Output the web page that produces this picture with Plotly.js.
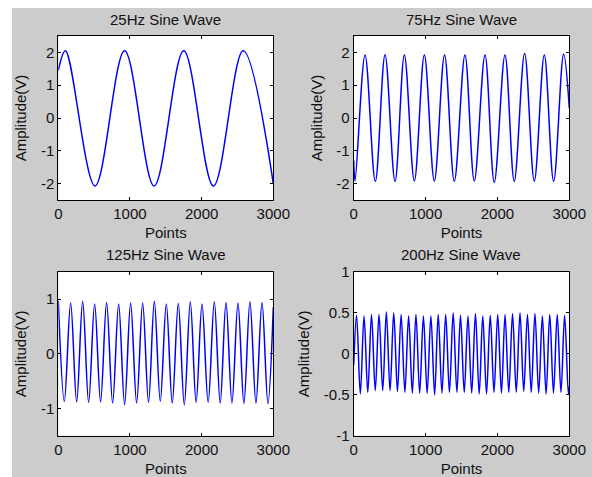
<!DOCTYPE html>
<html><head><meta charset="utf-8">
<script src="https://cdn.plot.ly/plotly-3.0.1.min.js"></script>
<style>html,body{margin:0;padding:0;background:#fff}</style>
</head><body><div id="chart" style="width:592px;height:477px"></div>
<script>
// ---------- data ----------
const panelTitles = ['25Hz Sine Wave', '75Hz Sine Wave', '125Hz Sine Wave', '200Hz Sine Wave'];
const xTitle = 'Points';
const yTitle = 'Amplitude(V)';
const xTickVals = [0, 1000, 2000, 3000];
const xTickText = ['0', '1000', '2000', '3000'];
const yTickVals2 = [-2, -1, 0, 1, 2];
const yTickText2 = ['-2', '-1', '0', '1', '2'];
const yTickVals1 = [-1, 0, 1];
const yTickText1 = ['-1', '0', '1'];
const yTickValsHalf = [-1, -0.5, 0, 0.5, 1];
const yTickTextHalf = ['-1', '-0.5', '0', '0.5', '1'];

// 25 Hz: extremes (point index, amplitude) and values at the two ends
const ends25 = [1.45, -2.0];
const peak25X = [100, 925, 1750, 2580];
const peak25Y = [2.05, 2.05, 2.05, 2.05];
const trough25X = [512, 1337, 2165];
const trough25Y = [-2.07, -2.07, -2.07];

// 75 Hz
const ends75 = [-1.3, 0.3];
const peak75X = [158, 436, 705, 983, 1264, 1548, 1827, 2105, 2378, 2652, 2921];
const peak75Y = [1.92, 1.93, 1.92, 1.92, 1.92, 1.92, 1.92, 1.92, 1.97, 1.92, 1.95];
const trough75X = [19, 301, 575, 844, 1122, 1400, 1678, 1956, 2234, 2513, 2782];
const trough75Y = [-1.92, -1.93, -1.93, -1.92, -1.92, -1.93, -1.92, -1.96, -1.93, -1.92, -1.93];

// 125 Hz
const ends125 = [0.97, 0.85];
const peak125X = [172, 340, 507, 674, 842, 1009, 1177, 1340, 1507, 1674, 1842, 2005, 2177, 2340, 2507, 2674, 2842];
const peak125Y = [0.93, 0.96, 0.91, 0.94, 0.91, 0.93, 0.93, 0.96, 0.91, 0.92, 0.95, 0.91, 0.95, 0.94, 0.93, 0.95, 0.94];
const trough125X = [84, 256, 423, 590, 758, 925, 1093, 1259, 1423, 1590, 1758, 1923, 2091, 2259, 2423, 2590, 2758, 2925];
const trough125Y = [-0.87, -0.88, -0.89, -0.88, -0.90, -0.93, -0.90, -0.89, -0.87, -0.90, -0.93, -0.89, -0.89, -0.90, -0.90, -0.91, -0.90, -0.91];

// 200 Hz
const ends200 = [-0.14, -0.4];
const peak200X = [40, 144, 248, 352, 454, 557, 660, 764, 866, 970, 1074, 1176, 1280, 1384, 1486, 1590, 1694, 1796, 1900, 2004, 2106, 2210, 2314, 2418, 2522, 2625, 2728, 2832, 2935];
const peak200Y = [0.47, 0.46, 0.48, 0.48, 0.51, 0.50, 0.48, 0.46, 0.48, 0.46, 0.46, 0.48, 0.48, 0.50, 0.47, 0.46, 0.49, 0.46, 0.47, 0.48, 0.48, 0.49, 0.50, 0.48, 0.49, 0.46, 0.48, 0.48, 0.47];
const trough200X = [92, 196, 300, 404, 506, 609, 712, 816, 918, 1022, 1126, 1228, 1332, 1436, 1538, 1642, 1746, 1848, 1952, 2056, 2158, 2262, 2366, 2470, 2574, 2677, 2780, 2884, 2987];
const trough200Y = [-0.49, -0.47, -0.45, -0.45, -0.45, -0.46, -0.47, -0.48, -0.48, -0.48, -0.50, -0.48, -0.47, -0.47, -0.47, -0.48, -0.49, -0.49, -0.47, -0.48, -0.47, -0.47, -0.46, -0.47, -0.48, -0.49, -0.48, -0.47, -0.49];

// ---------- build traces ----------
function series(ends, px, py, tx, ty) {
  const pts = [[0, ends[0]], [3000, ends[1]]];
  px.forEach((x, i) => pts.push([x, py[i]]));
  tx.forEach((x, i) => pts.push([x, ty[i]]));
  pts.sort((a, b) => a[0] - b[0]);
  return { x: pts.map(p => p[0]), y: pts.map(p => p[1]) };
}
const sets = [
  series(ends25, peak25X, peak25Y, trough25X, trough25Y),
  series(ends75, peak75X, peak75Y, trough75X, trough75Y),
  series(ends125, peak125X, peak125Y, trough125X, trough125Y),
  series(ends200, peak200X, peak200Y, trough200X, trough200Y)
];
const traces = sets.map((s, i) => ({
  type: 'scatter', mode: 'lines', x: s.x, y: s.y,
  xaxis: i === 0 ? 'x' : 'x' + (i + 1), yaxis: i === 0 ? 'y' : 'y' + (i + 1),
  line: { color: '#0000ff', width: 1.5, shape: 'spline', smoothing: 1 },
  hoverinfo: 'skip', showlegend: false
}));

// ---------- layout ----------
const W = 592, H = 477;
const FONT = 'Liberation Sans, Arial, sans-serif';
const TXT = '#111111';
const px2x = p => p / W;
const px2y = p => 1 - p / H;
const xDomL = [px2x(58.3), px2x(273.3)];
const xDomR = [px2x(353.7), px2x(569.3)];
const yDomT = [px2y(200), px2y(36)];
const yDomB = [px2y(435.8), px2y(271.8)];

function xAxis(domain, anchor) {
  return {
    domain, anchor, range: [0, 3000], tickmode: 'array', tickvals: xTickVals, ticktext: xTickText,
    ticks: 'inside', ticklen: 3, tickcolor: '#000', showline: true, linecolor: '#000', linewidth: 1,
    mirror: 'ticks', showgrid: false, zeroline: false, fixedrange: true,
    tickfont: { family: FONT, size: 15, color: TXT },
    title: { text: xTitle, font: { family: FONT, size: 15, color: TXT }, standoff: 6 }
  };
}
function yAxis(domain, anchor, range, vals, text) {
  return {
    domain, anchor, range, tickmode: 'array', tickvals: vals, ticktext: text,
    ticks: 'inside', ticklen: 3, tickcolor: '#000', showline: true, linecolor: '#000', linewidth: 1,
    mirror: 'ticks', showgrid: false, zeroline: false, fixedrange: true,
    tickfont: { family: FONT, size: 15, color: TXT },
    title: { text: yTitle, font: { family: FONT, size: 15, color: TXT }, standoff: 10 }
  };
}
const centers = [
  [(xDomL[0] + xDomL[1]) / 2, px2y(20)],
  [(xDomR[0] + xDomR[1]) / 2, px2y(20)],
  [(xDomL[0] + xDomL[1]) / 2, px2y(254.5)],
  [(xDomR[0] + xDomR[1]) / 2, px2y(254.5)]
];
const layout = {
  width: W, height: H, margin: { l: 0, r: 0, t: 0, b: 0 },
  paper_bgcolor: '#cccccc', plot_bgcolor: '#ffffff',
  showlegend: false,
  xaxis: xAxis(xDomL, 'y'), yaxis: yAxis(yDomT, 'x', [-2.5, 2.5], yTickVals2, yTickText2),
  xaxis2: xAxis(xDomR, 'y2'), yaxis2: yAxis(yDomT, 'x2', [-2.5, 2.5], yTickVals2, yTickText2),
  xaxis3: xAxis(xDomL, 'y3'), yaxis3: yAxis(yDomB, 'x3', [-1.5, 1.5], yTickVals1, yTickText1),
  xaxis4: xAxis(xDomR, 'y4'), yaxis4: yAxis(yDomB, 'x4', [-1, 1], yTickValsHalf, yTickTextHalf),
  annotations: panelTitles.map((t, i) => ({
    text: t, xref: 'paper', yref: 'paper', x: centers[i][0], y: centers[i][1],
    xanchor: 'center', yanchor: 'middle', showarrow: false,
    font: { family: FONT, size: 15, color: TXT }
  })),
  shapes: [
    { type: 'rect', xref: 'paper', yref: 'paper', x0: 0, x1: px2x(12), y0: 0, y1: 1, fillcolor: '#ffffff', line: { width: 0 }, layer: 'below' },
    { type: 'rect', xref: 'paper', yref: 'paper', x0: 0, x1: 1, y0: px2y(8), y1: 1, fillcolor: '#ffffff', line: { width: 0 }, layer: 'below' }
  ]
};
Plotly.newPlot('chart', traces, layout, { staticPlot: true, displayModeBar: false });
</script></body></html>
